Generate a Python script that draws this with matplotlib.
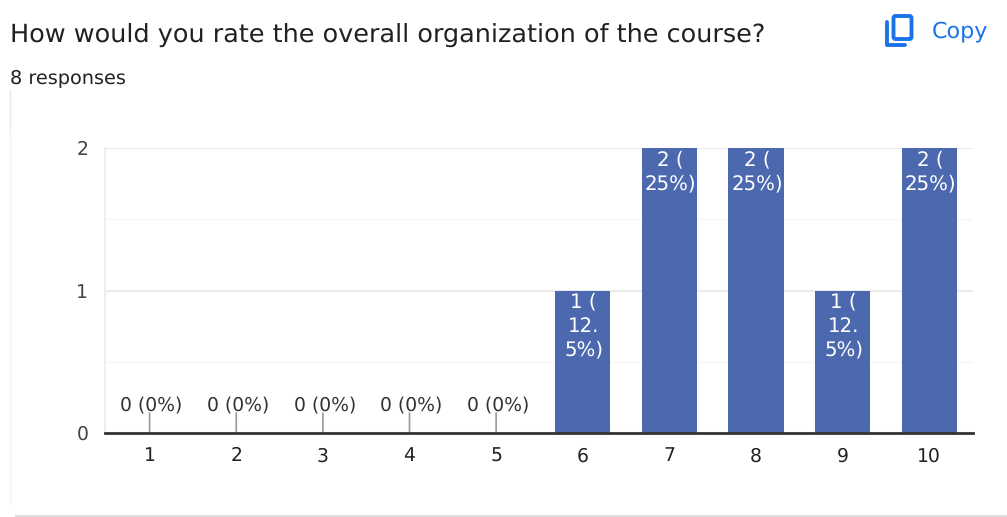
import matplotlib
matplotlib.use("Agg")
import matplotlib.pyplot as plt
from matplotlib.patches import FancyBboxPatch
from matplotlib.lines import Line2D

plt.rcParams["text.hinting"] = "no_hinting"

# Datos del grafico
ratings = [1, 2, 3, 4, 5, 6, 7, 8, 9, 10]
counts = [0, 0, 0, 0, 0, 1, 2, 2, 1, 2]
labels = ["0 (0%)", "0 (0%)", "0 (0%)", "0 (0%)", "0 (0%)",
          "1 (\n12.\n5%)", "2 (\n25%)", "2 (\n25%)", "1 (\n12.\n5%)", "2 (\n25%)"]
y_ticks = [0, 1, 2]
y_minor = [0.5, 1.5]

W, H = 1007, 517
blue = "#4c68ae"
fig = plt.figure(figsize=(W / 100, H / 100), dpi=100, facecolor="white")

# Capa en pixeles para titulo, icono y bordes
bg = fig.add_axes([0, 0, 1, 1])
bg.set_xlim(0, W)
bg.set_ylim(H, 0)
bg.axis("off")
bg.text(10, 34.5, "How would you rate the overall organization of the course?",
        fontsize=18.35, color="#202124", va="center", ha="left")
bg.text(10, 78.5, "8 responses", fontsize=13.9, color="#202124", va="center", ha="left")
bg.text(932, 31, "Copy", fontsize=16, color="#1a73e8", va="center", ha="left")
bg.add_patch(FancyBboxPatch((893.5, 16), 18, 23, boxstyle="round,pad=0,rounding_size=2",
                            fill=False, ec="#1a73e8", lw=2.8))
bg.add_line(Line2D([886.5, 886.5, 905], [22, 45, 45], color="#1a73e8", lw=2.8, solid_capstyle="round"))
bg.add_line(Line2D([9.5, 9.5], [90, 130], color="#e8e8e8", lw=1))
bg.add_line(Line2D([9.5, 9.5], [130, 503], color="#f4f4f4", lw=1))
bg.add_line(Line2D([16, 1007], [516, 516], color="#dedede", lw=1.5))

# Grafico de barras
ax = fig.add_axes([105 / W, 1 - 433 / H, (973 - 105) / W, (433 - 148) / H])
ax.patch.set_alpha(0)
ax.bar(ratings, counts, width=0.635, color=blue, zorder=3)
ax.set_xlim(0.485, 10.505)
ax.set_ylim(0, 2)
ax.set_xticks(ratings)
ax.set_yticks(y_ticks)
ax.set_yticks(y_minor, minor=True)
ax.grid(axis="y", which="major", color="#ececec", lw=1.6, zorder=0)
ax.grid(axis="y", which="minor", color="#f5f5f5", lw=1, zorder=0)
ax.tick_params(axis="both", which="both", length=0)
ax.tick_params(axis="x", labelsize=13.5, labelcolor="#222222", pad=10)
ax.tick_params(axis="y", labelsize=13.5, labelcolor="#444444", pad=12)
for s in ["top", "right"]:
    ax.spines[s].set_visible(False)
ax.spines["left"].set_color("#ececec")
ax.spines["left"].set_linewidth(1.2)
ax.spines["bottom"].set_color("#333333")
ax.spines["bottom"].set_linewidth(2)
ax.spines["bottom"].set_zorder(5)

for r, c, lab in zip(ratings, counts, labels):
    if c == 0:
        # etiqueta con linea guia para los ceros
        ax.annotate("", xy=(r, 0), xytext=(0, 20), textcoords="offset pixels",
                    arrowprops=dict(arrowstyle="-", color="#999999", lw=1.2, shrinkA=0, shrinkB=0))
        ax.annotate(lab, xy=(r, 0), xytext=(2, 28), textcoords="offset pixels",
                    ha="center", va="center", fontsize=13.5, color="#333333", zorder=6)
    else:
        ax.annotate(lab, xy=(r, c), xytext=(1, -2), textcoords="offset pixels",
                    ha="center", va="top", fontsize=14.2, color="white",
                    linespacing=1.3, zorder=6)

fig.savefig("out.png", dpi=100)
